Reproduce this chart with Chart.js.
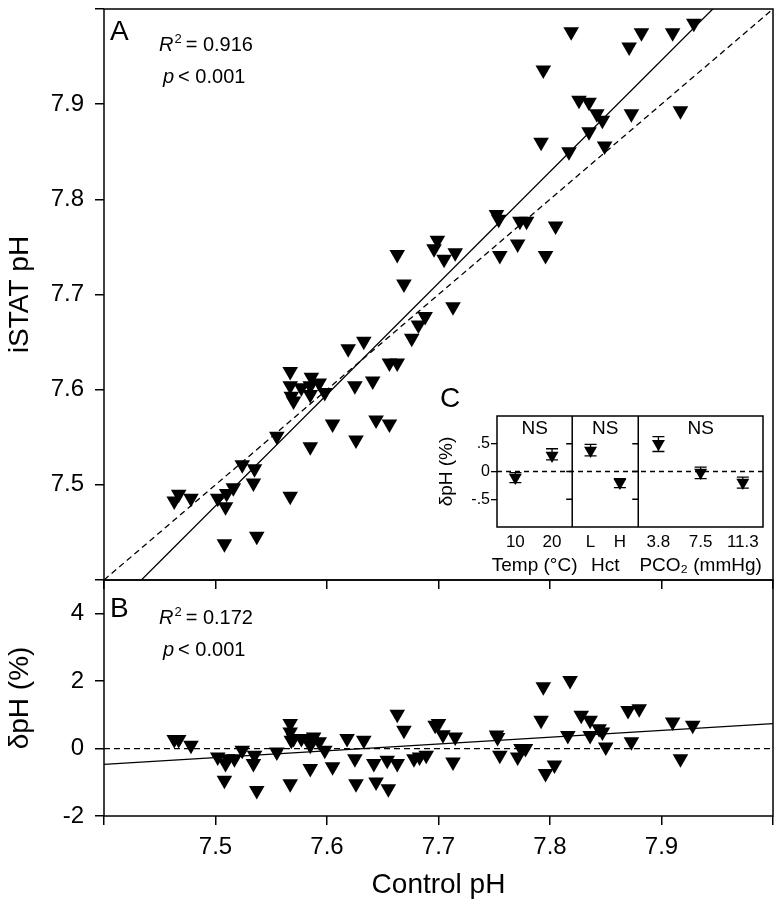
<!DOCTYPE html>
<html>
<head>
<meta charset="utf-8">
<script src="https://cdn.jsdelivr.net/npm/chart.js@4.4.1/dist/chart.umd.min.js"></script>
<style>
  html, body { margin: 0; padding: 0; background: #fff; }
  #wrap { position: relative; width: 782px; height: 906px; }
  canvas { position: absolute; }
  #chartA { left: 0; top: 0; }
  #chartB { left: 0; top: 560px; }
  #chartC { left: 430px; top: 380px; }
</style>
</head>
<body>
<div id="wrap">
  <canvas id="chartA" width="782" height="589"></canvas>
  <canvas id="chartB" width="782" height="346"></canvas>
  <canvas id="chartC" width="352" height="200"></canvas>
</div>
<script>
const FONT = "'Liberation Sans', Arial, Helvetica, sans-serif";
Chart.defaults.font.family = FONT;
Chart.defaults.color = "#000";

// panel A: iSTAT pH against control pH
const controlA = [
  7.463, 7.467, 7.478, 7.502, 7.508, 7.509, 7.510, 7.516, 7.524, 7.534,
  7.535, 7.537, 7.555, 7.567, 7.567, 7.567, 7.568, 7.570, 7.577, 7.585,
  7.585, 7.585, 7.586, 7.593, 7.598, 7.605, 7.619, 7.625, 7.626, 7.633,
  7.641, 7.644, 7.656, 7.656, 7.663, 7.663, 7.669, 7.676, 7.682, 7.688,
  7.696, 7.699, 7.705, 7.713, 7.715, 7.752, 7.754, 7.755, 7.771, 7.773,
  7.779, 7.792, 7.794, 7.796, 7.805, 7.817, 7.819, 7.826, 7.835, 7.835,
  7.842, 7.847, 7.849, 7.871, 7.873, 7.882, 7.910, 7.917, 7.929,
];
const istatA = [
  7.483, 7.490, 7.486, 7.486, 7.438, 7.477, 7.491, 7.497, 7.521, 7.502,
  7.517, 7.446, 7.551, 7.488, 7.604, 7.619, 7.593, 7.588, 7.602, 7.540,
  7.595, 7.604, 7.613, 7.607, 7.597, 7.564, 7.643, 7.604, 7.547, 7.651,
  7.609, 7.568, 7.628, 7.564, 7.628, 7.742, 7.711, 7.654, 7.668, 7.677,
  7.748, 7.757, 7.737, 7.687, 7.744, 7.784, 7.779, 7.741, 7.753, 7.777,
  7.777, 7.860, 7.936, 7.741, 7.772, 7.850, 7.976, 7.904, 7.902, 7.871,
  7.890, 7.883, 7.856, 7.960, 7.890, 7.975, 7.975, 7.893, 7.985,
];

// panel B: difference in % against control pH
const controlB = [
  7.463, 7.467, 7.478, 7.502, 7.508, 7.509, 7.511, 7.517, 7.524, 7.534,
  7.535, 7.537, 7.555, 7.567, 7.567, 7.567, 7.568, 7.570, 7.577, 7.585,
  7.585, 7.585, 7.588, 7.593, 7.598, 7.605, 7.618, 7.625, 7.626, 7.633,
  7.642, 7.644, 7.654, 7.655, 7.663, 7.663, 7.669, 7.678, 7.683, 7.689,
  7.697, 7.700, 7.704, 7.713, 7.715, 7.752, 7.753, 7.755, 7.771, 7.774,
  7.778, 7.792, 7.794, 7.796, 7.804, 7.816, 7.818, 7.828, 7.836, 7.836,
  7.844, 7.847, 7.850, 7.870, 7.873, 7.880, 7.910, 7.917, 7.928,
];
const deltaB = [
  0.27, 0.27, 0.10, -0.25, -0.94, -0.44, -0.30, -0.30, -0.05, -0.44,
  -0.20, -1.24, -0.10, -1.04, 0.49, 0.74, 0.25, 0.30, 0.30, -0.59,
  0.10, 0.25, 0.34, 0.20, -0.05, -0.54, 0.30, -0.30, -1.04, 0.25,
  -0.44, -0.99, -0.35, -1.19, -0.44, 1.02, 0.54, -0.30, -0.25, -0.20,
  0.69, 0.74, 0.41, -0.40, 0.34, 0.40, 0.33, -0.20, -0.25, 0.0,
  0.0, 0.84, 1.83, -0.74, -0.49, 0.39, 2.02, 0.99, 0.84, 0.39,
  0.59, 0.49, 0.05, 1.13, 0.20, 1.18, 0.79, -0.30, 0.69,
];

// regression lines (intercept, slope) and stats
const fitA = [-1.3024, 1.1707];
const fitB = [-15.395, 2.017];
const statsA = ["0.916", "0.001"];
const statsB = ["0.172", "0.001"];

const controlTicks = [7.4, 7.5, 7.6, 7.7, 7.8, 7.9, 8.0];
const istatTicks = [7.4, 7.5, 7.6, 7.7, 7.8, 7.9, 8.0];
const deltaTicks = [-2, 0, 2, 4];

// panel C inset: mean and error bar ends
const insetLabels = ["10", "20", "L", "H", "3.8", "7.5", "11.3"];
const insetMean = [-0.11, 0.29, 0.38, -0.2, 0.5, -0.02, -0.2];
const insetLow = [-0.2, 0.21, 0.28, -0.29, 0.36, -0.13, -0.3];
const insetHigh = [-0.02, 0.41, 0.49, -0.13, 0.63, 0.08, -0.1];
const insetGroups = ["Temp (°C)", "Hct", "PCO₂ (mmHg)"];
const insetNotes = ["NS", "NS", "NS"];
const insetTicks = [-0.5, 0, 0.5];
// where the categories and group dividers sit on the inset x scale
const insetSlot = [1, 3, 5.1, 6.7, 8.8, 11.1, 13.4];
const insetSplit = [0, 4.1, 7.7, 14.5];

const toPoints = (xs, ys) => xs.map((x, i) => ({ x: x, y: ys[i] }));
// straight line y = a + b*x across the x range
const lineFrom = (fit, xs) => xs.map((x) => ({ x: x, y: fit[0] + fit[1] * x }));
const xRange = [controlTicks[0], controlTicks[controlTicks.length - 1]];

const setTicks = (vals) => (scale) => {
  scale.ticks = vals.map((v) => ({ value: v }));
};

// fixed axis size, and no extra room for half labels at the ends
function fixSize(key, size) {
  return (s) => {
    s[key] = size;
    s.paddingTop = 0;
    s.paddingBottom = 0;
    s.paddingLeft = 0;
    s.paddingRight = 0;
  };
}

const tickGrid = {
  drawOnChartArea: false,
  drawTicks: true,
  tickLength: 9,
  color: "#000",
  lineWidth: 1.5,
};

function triangles(points, r) {
  return {
    data: points,
    showLine: false,
    pointStyle: "triangle",
    pointRotation: 180,
    pointRadius: r,
    pointHoverRadius: r,
    pointBackgroundColor: "#000",
    pointBorderColor: "#000",
    pointBorderWidth: 0,
  };
}

function straight(points, dash) {
  return {
    data: points,
    showLine: true,
    pointRadius: 0,
    borderColor: "#000",
    borderWidth: 1.3,
    borderDash: dash,
  };
}

// R^2 and p lines with italic letters
function drawStats(ctx, x, y1, y2, stats) {
  ctx.fillStyle = "#000";
  ctx.textAlign = "left";
  ctx.textBaseline = "alphabetic";
  ctx.font = "italic 20px " + FONT;
  ctx.fillText("R", x, y1);
  let w = ctx.measureText("R").width;
  ctx.font = "13px " + FONT;
  ctx.fillText("2", x + w + 1, y1 - 8);
  w += ctx.measureText("2").width + 5;
  ctx.font = "20px " + FONT;
  ctx.fillText("= " + stats[0], x + w, y1);

  ctx.font = "italic 20px " + FONT;
  ctx.fillText("p", x + 4, y2);
  w = ctx.measureText("p").width + 4;
  ctx.font = "20px " + FONT;
  ctx.fillText("< " + stats[1], x + 4 + w, y2);
}

const panelPlugin = {
  id: "panel",
  afterDraw(chart, args, opts) {
    const { ctx, chartArea: a } = chart;
    ctx.save();
    ctx.strokeStyle = "#000";
    ctx.lineWidth = 1.5;
    ctx.strokeRect(a.left, a.top, a.right - a.left, a.bottom - a.top);
    ctx.fillStyle = "#000";
    ctx.font = "28px " + FONT;
    ctx.textAlign = "left";
    ctx.textBaseline = "alphabetic";
    ctx.fillText(opts.letter, a.left + 6, a.top + opts.letterY);
    drawStats(ctx, a.left + 55, a.top + opts.r2Y, a.top + opts.pY, opts.stats);
    ctx.restore();
  },
};

const chartA = new Chart(document.getElementById("chartA"), {
  type: "scatter",
  data: {
    datasets: [
      triangles(toPoints(controlA, istatA), 9),
      straight(lineFrom(fitA, xRange), []),
      // line of identity
      straight(lineFrom([0, 1], xRange), [6, 4]),
    ],
  },
  options: {
    responsive: false,
    animation: false,
    devicePixelRatio: 1,
    events: [],
    layout: { padding: { left: 0, top: 3, right: 3, bottom: 0 } },
    plugins: {
      legend: { display: false },
      tooltip: { enabled: false },
      panel: { letter: "A", letterY: 31, r2Y: 42, pY: 74, stats: statsA },
    },
    scales: {
      x: {
        type: "linear",
        min: 7.4,
        max: 8.0,
        afterBuildTicks: setTicks(controlTicks),
        ticks: { display: false },
        grid: tickGrid,
        border: { display: false },
        afterFit: fixSize("height", 9),
      },
      y: {
        type: "linear",
        min: 7.4,
        max: 8.0,
        afterBuildTicks: setTicks(istatTicks),
        ticks: {
          font: { size: 24 },
          padding: 11,
          callback: (v) => (v > 7.45 && v < 7.95 ? v.toFixed(1) : ""),
        },
        grid: tickGrid,
        border: { display: false },
        title: {
          display: true,
          text: "iSTAT pH",
          font: { size: 28 },
          padding: { top: 3, bottom: 0 },
        },
        afterFit: fixSize("width", 104),
      },
    },
  },
  plugins: [panelPlugin],
});

const chartB = new Chart(document.getElementById("chartB"), {
  type: "scatter",
  data: {
    datasets: [
      triangles(toPoints(controlB, deltaB), 9),
      straight(lineFrom(fitB, xRange), []),
      straight(lineFrom([0, 0], xRange), [6, 4]),
    ],
  },
  options: {
    responsive: false,
    animation: false,
    devicePixelRatio: 1,
    events: [],
    layout: { padding: { left: 0, top: 20, right: 3, bottom: 0 } },
    plugins: {
      legend: { display: false },
      tooltip: { enabled: false },
      panel: { letter: "B", letterY: 37, r2Y: 44, pY: 76, stats: statsB },
    },
    scales: {
      x: {
        type: "linear",
        min: 7.4,
        max: 8.0,
        afterBuildTicks: setTicks(controlTicks),
        ticks: {
          font: { size: 24 },
          padding: 8,
          maxRotation: 0,
          autoSkip: false,
          callback: (v) => (v > 7.45 && v < 7.95 ? v.toFixed(1) : ""),
        },
        grid: tickGrid,
        border: { display: false },
        title: {
          display: true,
          text: "Control pH",
          font: { size: 28 },
          padding: { top: 0, bottom: 4 },
        },
        afterFit: fixSize("height", 90),
      },
      y: {
        type: "linear",
        min: -2,
        max: 5,
        afterBuildTicks: setTicks(deltaTicks),
        ticks: { font: { size: 24 }, padding: 11 },
        grid: tickGrid,
        border: { display: false },
        title: {
          display: true,
          text: "δpH (%)",
          font: { size: 28 },
          padding: { top: 3, bottom: 0 },
        },
        afterFit: fixSize("width", 104),
      },
    },
  },
  plugins: [panelPlugin],
});

// inset: box, group dividers, zero line, error bars and labels
const insetPlugin = {
  id: "inset",
  beforeDatasetsDraw(chart) {
    const { ctx, chartArea: a, scales } = chart;
    const y0 = scales.y.getPixelForValue(0);
    ctx.save();
    ctx.strokeStyle = "#000";
    ctx.lineWidth = 1.3;
    ctx.setLineDash([5, 4]);
    ctx.beginPath();
    ctx.moveTo(a.left, y0);
    ctx.lineTo(a.right, y0);
    ctx.stroke();
    ctx.setLineDash([]);
    insetSlot.forEach((s, i) => {
      const x = scales.x.getPixelForValue(s);
      const lo = scales.y.getPixelForValue(insetLow[i]);
      const hi = scales.y.getPixelForValue(insetHigh[i]);
      ctx.beginPath();
      ctx.moveTo(x, lo);
      ctx.lineTo(x, hi);
      ctx.moveTo(x - 6, lo);
      ctx.lineTo(x + 6, lo);
      ctx.moveTo(x - 6, hi);
      ctx.lineTo(x + 6, hi);
      ctx.stroke();
    });
    ctx.restore();
  },
  afterDraw(chart) {
    const { ctx, chartArea: a, scales } = chart;
    ctx.save();
    ctx.strokeStyle = "#000";
    ctx.lineWidth = 1.5;
    ctx.strokeRect(a.left, a.top, a.right - a.left, a.bottom - a.top);
    ctx.beginPath();
    insetSplit.slice(1, -1).forEach((s) => {
      const x = scales.x.getPixelForValue(s);
      ctx.moveTo(x, a.top);
      ctx.lineTo(x, a.bottom);
      insetTicks.forEach((t) => {
        const y = scales.y.getPixelForValue(t);
        ctx.moveTo(x - 6, y);
        ctx.lineTo(x, y);
      });
    });
    ctx.stroke();

    ctx.fillStyle = "#000";
    ctx.textAlign = "center";
    ctx.textBaseline = "middle";
    for (let g = 0; g < insetGroups.length; g++) {
      const cx = (scales.x.getPixelForValue(insetSplit[g]) +
        scales.x.getPixelForValue(insetSplit[g + 1])) / 2;
      ctx.font = "19px " + FONT;
      ctx.fillText(insetNotes[g], cx, a.top + 13);
      ctx.fillText(insetGroups[g], cx, a.bottom + 39);
    }
    ctx.textAlign = "left";
    ctx.textBaseline = "alphabetic";
    ctx.font = "28px " + FONT;
    ctx.fillText("C", 10, 27);
    ctx.restore();
  },
};

const chartC = new Chart(document.getElementById("chartC"), {
  type: "scatter",
  data: {
    datasets: [triangles(toPoints(insetSlot, insetMean), 7.5)],
  },
  options: {
    responsive: false,
    animation: false,
    devicePixelRatio: 1,
    events: [],
    layout: { padding: { left: 0, top: 36, right: 19, bottom: 0 } },
    plugins: { legend: { display: false }, tooltip: { enabled: false } },
    scales: {
      x: {
        type: "linear",
        min: insetSplit[0],
        max: insetSplit[insetSplit.length - 1],
        afterBuildTicks: setTicks(insetSlot),
        ticks: {
          font: { size: 17 },
          padding: 5,
          maxRotation: 0,
          autoSkip: false,
          callback: (v, i) => insetLabels[i],
        },
        grid: { display: false, drawTicks: false },
        border: { display: false },
        afterFit: fixSize("height", 53),
      },
      y: {
        type: "linear",
        min: -1,
        max: 1,
        afterBuildTicks: setTicks(insetTicks),
        ticks: {
          font: { size: 16 },
          padding: 1,
          callback: (v) => (v === 0 ? "0" : v < 0 ? "-.5" : ".5"),
        },
        grid: { drawOnChartArea: false, drawTicks: true, tickLength: 6, color: "#000", lineWidth: 1.3 },
        border: { display: false },
        title: {
          display: true,
          text: "δpH (%)",
          font: { size: 19 },
          padding: { top: 5, bottom: 0 },
        },
        afterFit: fixSize("width", 67),
      },
    },
  },
  plugins: [insetPlugin],
});
</script>
</body>
</html>
